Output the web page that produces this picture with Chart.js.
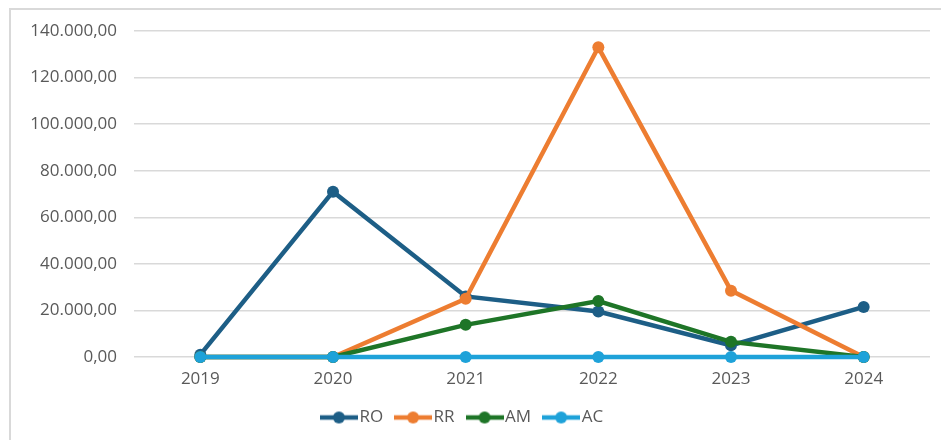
<!DOCTYPE html>
<html>
<head>
<meta charset="utf-8">
<script src="https://cdn.jsdelivr.net/npm/chart.js@4/dist/chart.umd.min.js"></script>
<style>
  html, body { margin: 0; padding: 0; background: #fff; }
  #wrap { position: relative; width: 941px; height: 440px; }
  #moldura { position: absolute; left: 9px; top: 8px; right: -5px; bottom: -5px; border-left: 2px solid #d9d9d9; border-top: 2px solid #d9d9d9; }
  canvas { position: absolute; left: 0; top: 0; }
</style>
</head>
<body>
<div id="wrap">
  <div id="moldura"></div>
  <canvas id="grafico" width="941" height="440"></canvas>
</div>
<script>
// anos e valores
const anos = ["2019", "2020", "2021", "2022", "2023", "2024"];
const valoresRO = [1000, 71000, 26000, 19500, 5000, 21500];
const valoresRR = [0, 0, 25000, 133000, 28500, 0];
const valoresAM = [0, 0, 13800, 24000, 6500, 0];
const valoresAC = [0, 0, 0, 0, 0, 0];
const ticksY = [0, 20000, 40000, 60000, 80000, 100000, 120000, 140000];

// formata numero no padrao brasileiro: 140.000,00
function formatarBR(v) {
  let partes = Number(v).toFixed(2).split(".");
  partes[0] = partes[0].replace(/\B(?=(\d{3})+(?!\d))/g, ".");
  return partes[0] + "," + partes[1];
}

// icone da legenda: linha com bolinha no meio
function iconeLegenda(cor) {
  const c = document.createElement("canvas");
  c.width = 38;
  c.height = 14;
  const ctx = c.getContext("2d");
  ctx.strokeStyle = cor;
  ctx.lineWidth = 4.5;
  ctx.beginPath();
  ctx.moveTo(0, 7);
  ctx.lineTo(38, 7);
  ctx.stroke();
  ctx.fillStyle = cor;
  ctx.beginPath();
  ctx.arc(19, 7, 6, 0, Math.PI * 2);
  ctx.fill();
  return c;
}

function serie(nome, dados, cor, ordem) {
  return {
    label: nome,
    data: dados,
    borderColor: cor,
    backgroundColor: cor,
    borderWidth: 4.5,
    pointRadius: 6,
    pointHoverRadius: 6,
    pointBorderWidth: 0,
    pointStyle: "circle",
    tension: 0,
    clip: false,
    order: ordem,
    icone: iconeLegenda(cor),
  };
}

const fonte = { family: "'Open Sans', 'Noto Sans', sans-serif", size: 17 };
const corTexto = "#595959";

// fixa a altura da legenda para o espaco entre itens nao empurrar o grafico
const alturaLegenda = {
  id: "alturaLegenda",
  beforeLayout(chart) {
    const lg = chart.legend;
    if (lg && !lg._fixo) {
      const fitOriginal = lg.fit;
      lg.fit = function () {
        fitOriginal.call(this);
        this.height = 49;
      };
      lg._fixo = true;
    }
  },
};

new Chart(document.getElementById("grafico"), {
  type: "line",
  data: {
    labels: anos,
    datasets: [
      serie("RO", valoresRO, "#1d5e86", 4),
      serie("RR", valoresRR, "#ed7d31", 3),
      serie("AM", valoresAM, "#1e7527", 2),
      serie("AC", valoresAC, "#1ea2d9", 1),
    ],
  },
  plugins: [alturaLegenda],
  options: {
    responsive: false,
    animation: false,
    layout: { padding: { top: 31, right: 11, bottom: 0, left: 0 } },
    plugins: {
      tooltip: { enabled: false },
      legend: {
        position: "bottom",
        labels: {
          color: corTexto,
          font: fonte,
          usePointStyle: true,
          pointStyleWidth: 24,
          padding: 18,
          generateLabels(chart) {
            return chart.data.datasets.map((ds, i) => ({
              text: ds.label,
              fillStyle: ds.borderColor,
              strokeStyle: ds.borderColor,
              pointStyle: ds.icone,
              fontColor: corTexto,
              lineWidth: 0,
              hidden: false,
              datasetIndex: i,
            }));
          },
        },
      },
    },
    scales: {
      x: {
        offset: true,
        afterFit(scale) {
          scale.height = 34;
        },
        grid: { display: false, drawTicks: false },
        border: { display: false },
        ticks: { color: corTexto, font: fonte, padding: 12 },
      },
      y: {
        min: 0,
        max: 140000,
        afterBuildTicks(scale) {
          scale.ticks = ticksY.map((v) => ({ value: v }));
        },
        afterFit(scale) {
          scale.width = 134;
        },
        grid: { color: "#d9d9d9", lineWidth: 1.5, drawTicks: false },
        border: { display: false },
        ticks: {
          color: corTexto,
          font: fonte,
          padding: 17,
          callback: (v) => formatarBR(v),
        },
      },
    },
  },
});
</script>
</body>
</html>
